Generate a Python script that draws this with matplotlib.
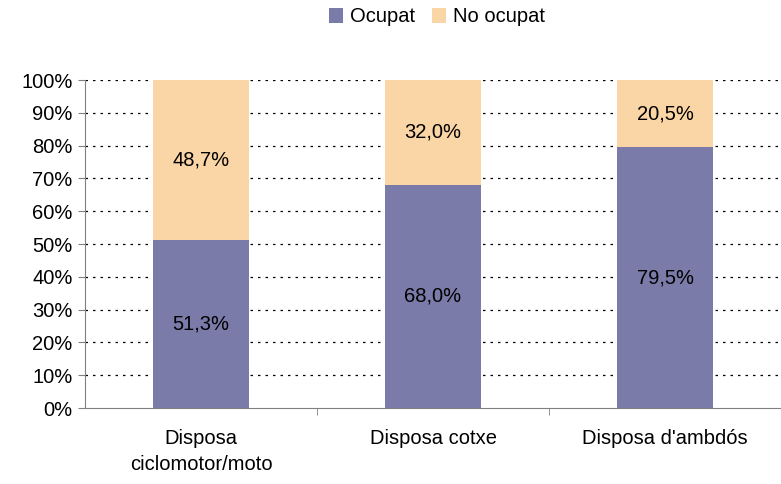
import numpy as np
import matplotlib.pyplot as plt

plt.rcParams['font.family'] = ['Liberation Sans', 'DejaVu Sans']

categories = ["Disposa\nciclomotor/moto", "Disposa cotxe", "Disposa d'ambdós"]
ocupat = [51.3, 68.0, 79.5]
no_ocupat = [48.7, 32.0, 20.5]
series_names = ["Ocupat", "No ocupat"]
yticks = np.arange(0, 101, 10)

c_ocu = '#7b7baa'
c_no = '#fad5a5'

fig = plt.figure(figsize=(7.81, 4.84), dpi=100)
ax = fig.add_axes([85/781, 1-408/484, 1-85/781, 328/484])

x = np.arange(len(categories))
w = 0.41
b1 = ax.bar(x, ocupat, w, color=c_ocu, label=series_names[0], zorder=3)
b2 = ax.bar(x, no_ocupat, w, bottom=ocupat, color=c_no, label=series_names[1], zorder=3)

for i in range(len(categories)):
    ax.text(x[i], ocupat[i]/2, f"{ocupat[i]:.1f}%".replace('.', ','),
            ha='center', va='center', fontsize=14.5, zorder=4)
    ax.text(x[i], ocupat[i] + no_ocupat[i]/2, f"{no_ocupat[i]:.1f}%".replace('.', ','),
            ha='center', va='center', fontsize=14.5, zorder=4)

ax.set_ylim(0, 100)
ax.set_xlim(-0.5, (781-85)/234.5 - 0.5)
ax.set_yticks(yticks)
ax.set_yticklabels([f"{v}%" for v in yticks], fontsize=14.5)
for v in yticks[1:]:
    ax.axhline(v, color='black', lw=0.9, ls=(0, (2, 4)), zorder=1)

ax.set_xticks(x)
ax.set_xticklabels(categories, fontsize=14.5, linespacing=1.45)
ax.tick_params(axis='x', length=0, pad=15)
ax.set_xticks([0.5, 1.5, 2.5], minor=True)
ax.tick_params(axis='x', which='minor', length=5, direction='out', color='#808080')
ax.tick_params(axis='y', length=5, direction='out', color='#808080', pad=4)

for s in ['top', 'right']:
    ax.spines[s].set_visible(False)
ax.spines['left'].set_color('#808080')
ax.spines['bottom'].set_color('#808080')

fig.legend(handles=[b1, b2], loc='center', bbox_to_anchor=(437/781, 1-17/484), ncol=2,
           frameon=False, fontsize=14.5, handlelength=0.7, handleheight=0.7,
           handletextpad=0.35, columnspacing=0.8)

fig.savefig('out.png', dpi=100)
